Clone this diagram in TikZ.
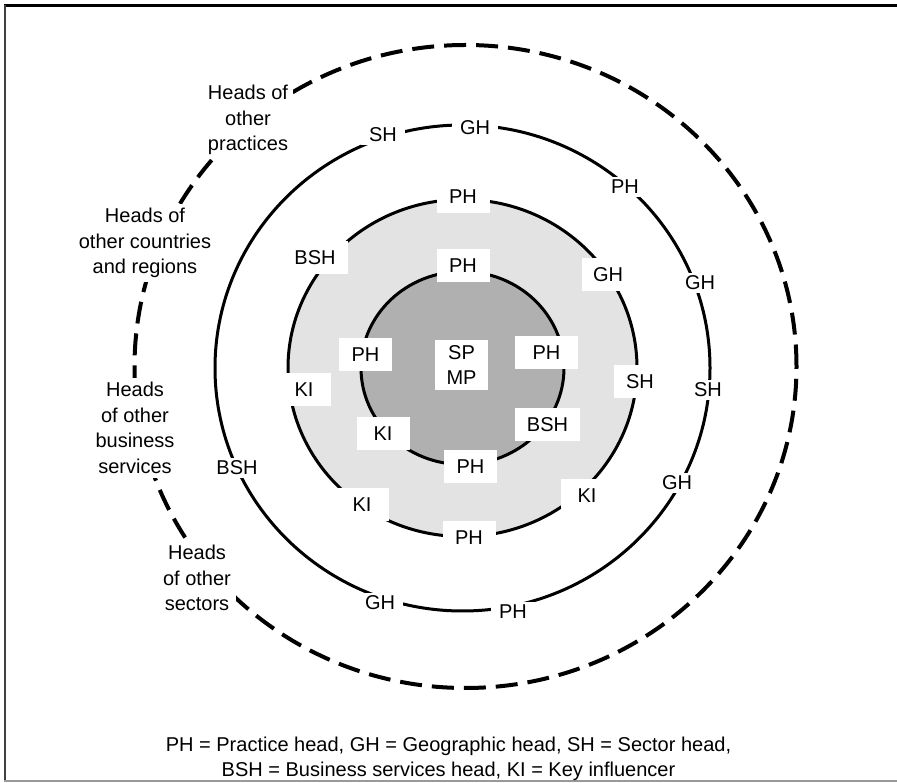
\documentclass[tikz,border=0pt]{standalone}
\usepackage{fontspec}
\setmainfont{Liberation Sans}
\usetikzlibrary{positioning}

\begin{document}
\begin{tikzpicture}[x=1pt,y=1pt,every node/.style={font=\fontsize{20}{25.5}\selectfont},lab/.style={fill=white,inner xsep=8pt,inner ysep=3pt},tag/.style={fill=white,minimum width=53pt,minimum height=33pt,inner sep=3pt},side/.style={fill=white,align=center,inner xsep=5pt,inner ysep=4pt},ring/.style={line width=3pt}]
\useasboundingbox (0,0) rectangle (897,782);
% frame
\draw[line width=3pt] (4,776.5)--(897,776.5);
\draw[line width=2pt,black!75] (5,777)--(5,1);
\draw[line width=1.5pt,black!40] (4,1)--(897,1);
\begin{scope}[shift={(462.5,414)}]
% rings
\draw[ring,fill=black!11] (0,0) ellipse [x radius=174.5pt,y radius=168.5pt];
\draw[ring,fill=black!31] (0,0) ellipse [x radius=101.5pt,y radius=96.5pt];
\draw[ring] (0,0) ellipse [x radius=247.5pt,y radius=243pt];
\draw[line width=4pt,dash pattern=on 22pt off 10pt] (3,1.5) ellipse [x radius=331pt,y radius=321.5pt];
% outer ring
\node[lab] (sh1) at (-79.5,233) {SH};
\node[lab] (gh1) at (12.5,240) {GH};
\node[lab] (ph1) at (162.5,181) {PH};
\node[lab] (gh2) at (237.5,85) {GH};
\node[lab] (sh2) at (245.5,-22) {SH};
\node[lab] (gh3) at (214.5,-115) {GH};
\node[lab] (ph2) at (50.5,-244) {PH};
\node[lab] (gh4) at (-82.5,-235) {GH};
\node[lab] (bsh1) at (-225.5,-100) {BSH};
% light ring
\node[tag] (ph3) at (0.5,171) {PH};
\node[tag] (gh5) at (145.5,93) {GH};
\node[tag] (sh3) at (177.5,-14) {SH};
\node[tag] (ki1) at (124.5,-128) {KI};
\node[tag] (ph4) at (6.5,-170) {PH};
\node[tag] (ki2) at (-100.5,-137) {KI};
\node[tag] (ki3) at (-158.5,-22) {KI};
\node[tag,minimum width=66pt] (bsh2) at (-147.5,110) {BSH};
% core
\node[tag] (ph5) at (0.5,102) {PH};
\node[tag] (ph6) at (-97,13) {PH};
\node[tag,minimum width=63pt] (ph7) at (84,15.5) {PH};
\node[tag,minimum width=65pt] (bsh3) at (85,-57) {BSH};
\node[tag] (ki4) at (-79.5,-65.5) {KI};
\node[tag] (ph8) at (8,-98.5) {PH};
\node[tag,align=center,inner sep=5pt] (spmp) at (-1,3) {SP\\MP};
% others
\node[side] (prac) at (-214.5,248) {Heads of\\other\\practices};
\node[side] (ctry) at (-317.5,125) {Heads of\\other countries\\and regions};
\node[side] (bus) at (-327.5,-60) {Heads\\of other\\business\\services};
\node[side] (sect) at (-265.5,-210) {Heads\\of other\\sectors};
\end{scope}
\node[align=center] (key) at (448.5,23) {PH = Practice head, GH = Geographic head, SH = Sector head,\\BSH = Business services head, KI = Key influencer};
\end{tikzpicture}
\end{document}
